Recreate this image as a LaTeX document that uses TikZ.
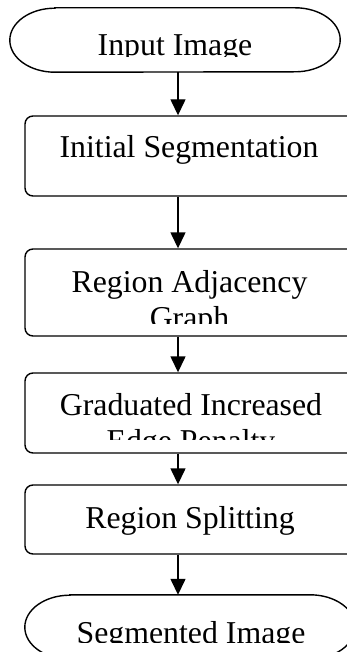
\documentclass[tikz,border=0pt]{standalone}
\usepackage{fontspec}
\setmainfont{Liberation Serif}
\usetikzlibrary{arrows.meta}
\begin{document}
\begin{tikzpicture}[x=1pt,y=-1pt,
  box/.style={draw, line width=1.4pt, rounded corners=8pt, minimum width=330pt, inner sep=0pt, rectangle},
  term/.style={draw=none, minimum width=330pt, minimum height=64pt, inner sep=0pt, rectangle},
  lbl/.style={anchor=base, inner sep=0pt, font=\fontsize{31.8pt}{36pt}\selectfont},
  conn/.style={line width=1.4pt, -{Triangle[width=15pt,length=16pt]}}]
\useasboundingbox (0,0) rectangle (347,652);
\fill[white] (0,0) rectangle (347,652);
% shapes
\node[term] (in) at (175,40) {};
\draw[line width=1.4pt] ([xshift=45pt]in.north west) -- ([xshift=-45pt]in.north east)
  arc[start angle=90,end angle=-90,x radius=45pt,y radius=32pt]
  -- ([xshift=45pt]in.south west)
  arc[start angle=270,end angle=90,x radius=45pt,y radius=32pt] -- cycle;
\node[box, minimum height=80pt] (init) at (190,156) {};
\node[box, minimum height=87pt] (rag) at (190,292.5) {};
\node[box, minimum height=80pt] (gie) at (190,413) {};
\node[box, minimum height=69pt] (rs) at (190,519.5) {};
\node[term] (out) at (190,627) {};
\draw[line width=1.4pt] ([xshift=45pt]out.north west) -- ([xshift=-45pt]out.north east)
  arc[start angle=90,end angle=-90,x radius=45pt,y radius=32pt]
  -- ([xshift=45pt]out.south west)
  arc[start angle=270,end angle=90,x radius=45pt,y radius=32pt] -- cycle;
% texts
\begin{scope}
\clip (0,0) rectangle (347,56.5);
\node[lbl] (tin) at (175,55.5) {Input Image};
\end{scope}
\node[lbl] (tinit) at (189,158) {Initial Segmentation};
\begin{scope}
\clip (0,0) rectangle (347,323);
\node[lbl] (trag1) at (189.5,292) {Region Adjacency};
\node[lbl] (trag2) at (189.5,328) {Graph};
\end{scope}
\begin{scope}
\clip (0,340) rectangle (347,439);
\node[lbl] (tgie1) at (191,415) {Graduated Increased};
\node[lbl] (tgie2) at (191,451) {Edge Penalty};
\end{scope}
\node[lbl] (trs) at (190,528) {Region Splitting};
\begin{scope}
\clip (0,600) rectangle (347,642.5);
\node[lbl] (tout) at (191,643) {Segmented Image};
\end{scope}
% connectors
\coordinate (ax) at (178,0);
\draw[conn] (in.south -| ax) -- (init.north -| ax);
\draw[conn] (init.south -| ax) -- (rag.north -| ax);
\draw[conn] (rag.south -| ax) -- (gie.north -| ax);
\draw[conn] (gie.south -| ax) -- (rs.north -| ax);
\draw[conn] (rs.south -| ax) -- (out.north -| ax);
\end{tikzpicture}
\end{document}
